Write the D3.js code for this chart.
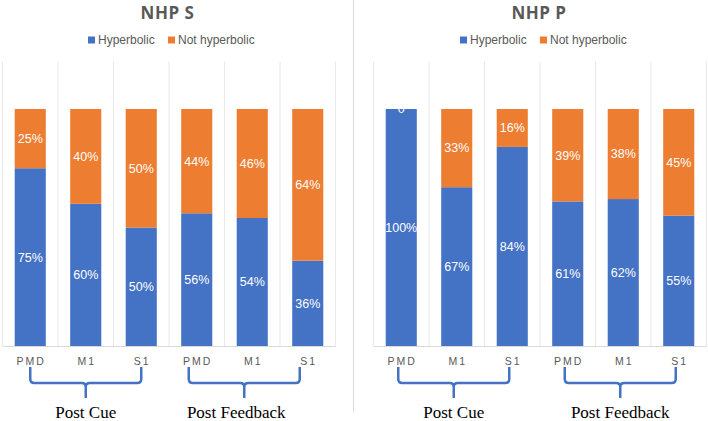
<!DOCTYPE html>
<html><head><meta charset="utf-8">
<script src="https://cdn.jsdelivr.net/npm/d3@7"></script>
<style>body{margin:0;background:#fff}svg{display:block}</style>
</head><body>
<svg id="c" width="708" height="421"></svg>
<script>
const categories = ["PMD","M1","S1","PMD","M1","S1"];
const seriesNames = ["Hyperbolic","Not hyperbolic"];
const panelTitles = ["NHP S","NHP P"];
const hypS = [0.75,0.60,0.50,0.56,0.54,0.36];
const notS = [0.25,0.40,0.50,0.44,0.46,0.64];
const hypP = [1.00,0.67,0.84,0.61,0.62,0.55];
const notP = [0.00,0.33,0.16,0.39,0.38,0.45];
const labelsS = [["75%","60%","50%","56%","54%","36%"],["25%","40%","50%","44%","46%","64%"]];
const labelsP = [["100%","67%","84%","61%","62%","55%"],["0","33%","16%","39%","38%","45%"]];
const groupNames = ["Post Cue","Post Feedback"];
const groupSpans = [[0,2],[3,5]];

const colors = ["#4472c4","#ed7d31"];
const svg = d3.select("#c");
const y = d3.scaleLinear().domain([0,1.2]).range([346,61.6]);

const panels = [
  {title:panelTitles[0], hyp:hypS, not:notS, labels:labelsS, x0:2.5, x1:335.5, tx:167.5, legX:88, braceDx:[0,-8], labDx:[0,-8]},
  {title:panelTitles[1], hyp:hypP, not:notP, labels:labelsP, x0:373.5, x1:706.5, tx:539, legX:460, braceDx:[-3,-3], labDx:[0,0]}
];

// divider
svg.append("line").attr("x1",353.5).attr("x2",353.5).attr("y1",0).attr("y2",412)
  .attr("stroke","#d5dcea").attr("stroke-width",1);

panels.forEach(p=>{
  const g = svg.append("g");
  const x = d3.scaleBand().domain(d3.range(categories.length)).range([p.x0,p.x1]);
  const bw = x.bandwidth()*0.56;
  const edges = d3.range(categories.length+1).map(i=>p.x0+i*x.bandwidth());
  g.selectAll("line.grid").data(edges).join("line")
    .attr("x1",d=>d).attr("x2",d=>d).attr("y1",y(1.2)).attr("y2",y(0))
    .attr("stroke","#e8e8e8").attr("stroke-width",1);
  g.append("line").attr("x1",p.x0).attr("x2",p.x1).attr("y1",y(0)+0.5).attr("y2",y(0)+0.5)
    .attr("stroke","#d9d9d9");
  const stack = categories.map((c,i)=>[
    {s:0,y0:0,y1:p.hyp[i],i,lab:p.labels[0][i]},
    {s:1,y0:p.hyp[i],y1:p.hyp[i]+p.not[i],i,lab:p.labels[1][i]}
  ]).flat();
  g.selectAll("rect.bar").data(stack).join("rect")
    .attr("x",d=>x(d.i)+(x.bandwidth()-bw)/2).attr("width",bw)
    .attr("y",d=>y(d.y1)).attr("height",d=>y(d.y0)-y(d.y1))
    .attr("fill",d=>colors[d.s]);
  g.selectAll("text.lab").data(stack).join("text")
    .attr("x",d=>x(d.i)+x.bandwidth()/2).attr("y",d=>(y(d.y0)+y(d.y1))/2)
    .attr("dy","0.35em").attr("text-anchor","middle")
    .attr("fill","#fff").attr("font-family","Liberation Sans, Arial, sans-serif").attr("font-size",12.5)
    .text(d=>d.lab);
  g.selectAll("text.xl").data(categories).join("text")
    .attr("x",(d,i)=>x(i)+x.bandwidth()/2+1).attr("y",365)
    .attr("text-anchor","middle").attr("fill","#595959")
    .attr("font-family","Liberation Sans, Arial, sans-serif").attr("font-size",10.5)
    .attr("letter-spacing","2px").text(d=>d);
  g.append("text").attr("x",p.tx).attr("y",19).attr("text-anchor","middle")
    .attr("font-family","Open Sans, sans-serif").attr("font-weight","bold").attr("font-size",17)
    .attr("fill","#595959").attr("letter-spacing","0.5px").text(p.title);
  const legOffsets=[0,80];
  seriesNames.forEach((s,k)=>{
    const lx=p.legX+legOffsets[k];
    g.append("rect").attr("x",lx).attr("y",36.5).attr("width",7).attr("height",7).attr("fill",colors[k]);
    g.append("text").attr("x",lx+10).attr("y",43.5).attr("fill","#595959")
      .attr("font-family","Liberation Sans, Arial, sans-serif").attr("font-size",12).text(s);
  });
  groupSpans.forEach((sp,k)=>{
    const a = x(sp[0])+x.bandwidth()/2+p.braceDx[k];
    const b = x(sp[1])+x.bandwidth()/2+p.braceDx[k];
    const m = (a+b)/2, r=4, yt=367, yh=383, yb=398;
    const path = `M${a},${yt}V${yh-r}Q${a},${yh} ${a+r},${yh}H${m-r}Q${m},${yh} ${m},${yh+r}V${yb}M${m},${yh+r}Q${m},${yh} ${m+r},${yh}H${b-r}Q${b},${yh} ${b},${yh-r}V${yt}`;
    g.append("path").attr("d",path).attr("fill","none").attr("stroke","#4472c4").attr("stroke-width",2.5);
    g.append("text").attr("x",m+p.labDx[k]).attr("y",418).attr("text-anchor","middle")
      .attr("font-family","Liberation Serif, Times New Roman, serif").attr("font-size",17)
      .attr("fill","#000").text(groupNames[k]);
  });
});
</script>
</body></html>
